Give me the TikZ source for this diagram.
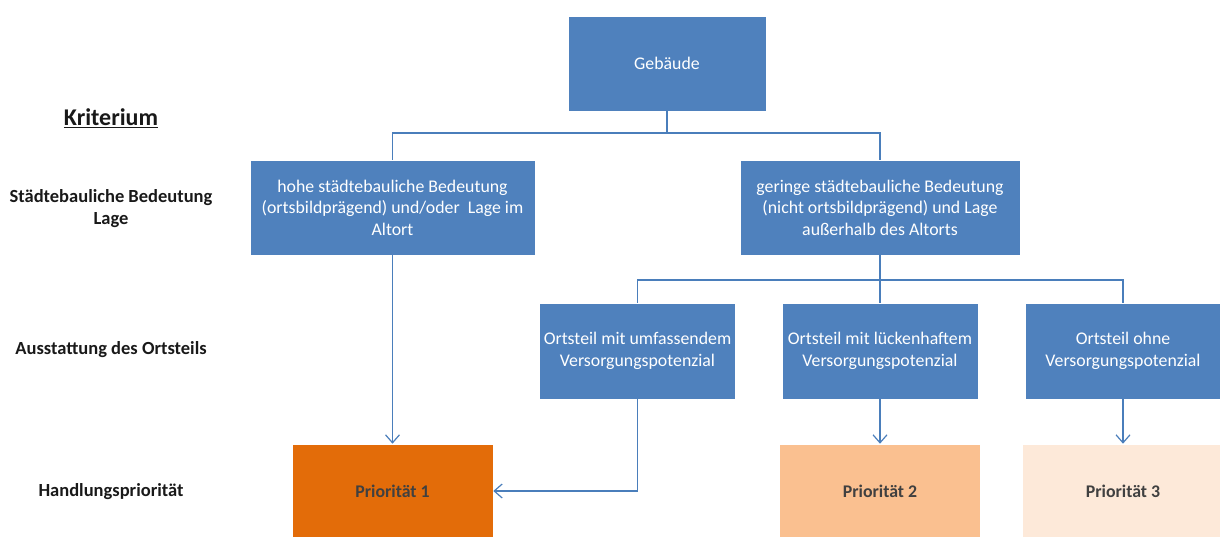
\documentclass[tikz,border=0pt]{standalone}
\usepackage{fontspec}
\setmainfont{Carlito}
\usetikzlibrary{arrows.meta}
\definecolor{boxblue}{HTML}{4F81BD}
\definecolor{lineblue}{HTML}{4A7EBB}
\definecolor{prioA}{HTML}{E36C09}
\definecolor{prioB}{HTML}{FAC090}
\definecolor{prioC}{HTML}{FDE9D9}
\definecolor{prioText}{HTML}{404040}
\tikzset{
  bluebox/.style={fill=boxblue, draw=white, line width=0.6pt, text=white, align=center,
    font=\fontsize{17.8}{21.5}\selectfont, inner sep=0pt},
  priobox/.style={draw=white, line width=0.6pt, text=prioText, align=center,
    font=\fontsize{17.8}{21.5}\selectfont\bfseries, inner sep=0pt, minimum width=201pt, minimum height=94pt},
  crit/.style={align=center, font=\fontsize{18.5}{22}\selectfont\bfseries, text=black!90},
  conn/.style={draw=lineblue, line width=1.2pt},
  arr/.style={conn, -{Straight Barb[length=8pt,width=14pt,line width=1.2pt]}}
}
\begin{document}
\begin{tikzpicture}[x=1pt,y=-1pt]
\useasboundingbox (0,0) rectangle (1220,537);
% criteria labels
\node[font=\fontsize{24}{28}\selectfont\bfseries, text=black!90] (krit) at (111,118) {\underline{Kriterium}};
\node[crit] (c1) at (111,209) {Städtebauliche Bedeutung\\Lage};
\node[crit] (c2) at (111,350) {Ausstattung des Ortsteils};
\node[crit] (c3) at (111,492) {Handlungspriorität};
% boxes
\node[bluebox, minimum width=198pt, minimum height=95pt] (geb) at (667,63.5) {Gebäude};
\node[bluebox, minimum width=285pt, minimum height=95pt] (hoch) at (392.5,207.5) {hohe städtebauliche Bedeutung\\(ortsbildprägend) und/oder~ Lage im\\Altort};
\node[bluebox, minimum width=280pt, minimum height=95pt] (gering) at (880,207.5) {geringe städtebauliche Bedeutung\\(nicht ortsbildprägend) und Lage\\außerhalb des Altorts};
\node[bluebox, minimum width=196pt, minimum height=96pt] (o1) at (637.5,351) {Ortsteil mit umfassendem\\Versorgungspotenzial};
\node[bluebox, minimum width=196pt, minimum height=96pt] (o2) at (880,351) {Ortsteil mit lückenhaftem\\Versorgungspotenzial};
\node[bluebox, minimum width=196pt, minimum height=96pt] (o3) at (1123,351) {Ortsteil ohne\\Versorgungspotenzial};
\node[priobox, fill=prioA] (p1) at (392.5,491) {Priorität 1};
\node[priobox, fill=prioB] (p2) at (880,491) {Priorität 2};
\node[priobox, fill=prioC] (p3) at (1123,491) {Priorität 3};
% connectors
\coordinate (j1) at (667,133);
\coordinate (j2) at (880,280);
\draw[conn] (geb.south) -- (j1);
\draw[conn] (j1) -| (hoch.north);
\draw[conn] (j1) -| (gering.north);
\draw[conn] (gering.south) -- (j2);
\draw[conn] (j2) -| (o1.north);
\draw[conn] (j2) -| (o3.north);
\draw[conn] (j2) -- (o2.north);
\draw[arr] (hoch.south) -- (p1.north);
\draw[arr] (o1.south) |- (p1.east);
\draw[arr] (o2.south) -- (p2.north);
\draw[arr] (o3.south) -- (p3.north);
\end{tikzpicture}
\end{document}
